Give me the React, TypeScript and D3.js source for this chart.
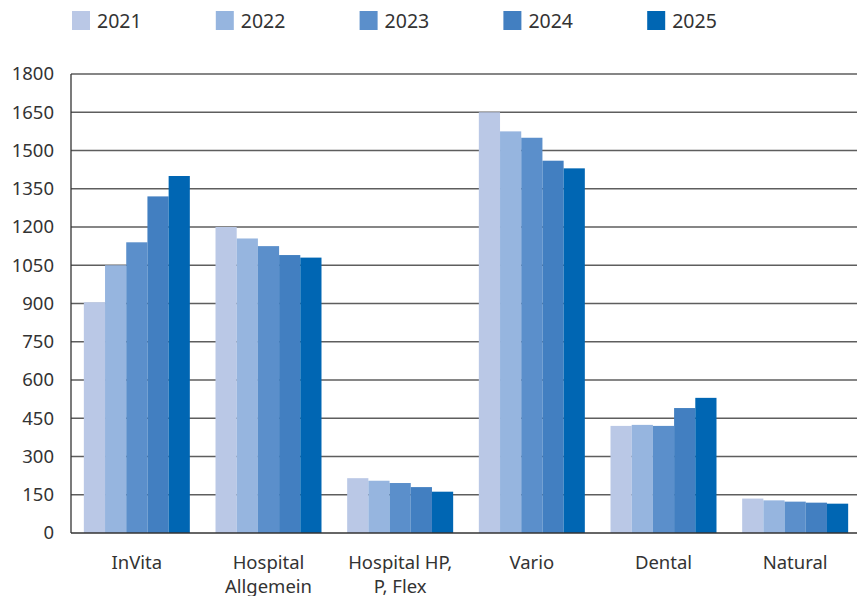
import * as d3 from "d3";
import { useEffect, useRef } from "react";

const categories = ["InVita", "Hospital\nAllgemein", "Hospital HP,\nP, Flex", "Vario", "Dental", "Natural"];
const years = ["2021", "2022", "2023", "2024", "2025"];
const values2021 = [905, 1200, 215, 1650, 420, 135];
const values2022 = [1050, 1155, 205, 1575, 424, 128];
const values2023 = [1140, 1125, 196, 1550, 420, 123];
const values2024 = [1320, 1090, 180, 1460, 490, 119];
const values2025 = [1400, 1080, 162, 1430, 530, 115];
const yTicks = [0, 150, 300, 450, 600, 750, 900, 1050, 1200, 1350, 1500, 1650, 1800];
const colors = ["#bac8e6", "#96b5df", "#5b8fcb", "#427fc1", "#0066b3"];

const series = [values2021, values2022, values2023, values2024, values2025];

const App = () => {
  const svgRef = useRef<SVGSVGElement>(null);

  useEffect(() => {
    const svg = d3.select(svgRef.current);
    svg.selectAll("*").remove();
    const width = 857;
    const height = 596;
    const margin = { top: 74, right: -4, bottom: 63, left: 71 };
    const font = "'Noto Sans', 'Open Sans', sans-serif";

    const x0 = d3.scaleBand()
      .domain(categories)
      .range([margin.left, width - margin.right])
      .paddingInner(0.195)
      .paddingOuter(0.0975);

    const x1 = d3.scaleBand()
      .domain(years)
      .range([0, x0.bandwidth()]);

    const y = d3.scaleLinear()
      .domain([0, 1800])
      .range([height - margin.bottom, margin.top]);

    // gridlines
    svg.append("g")
      .selectAll("line")
      .data(yTicks.filter((t) => t > 0))
      .join("line")
      .attr("x1", margin.left)
      .attr("x2", width)
      .attr("y1", (d) => y(d))
      .attr("y2", (d) => y(d))
      .attr("stroke", "#5e5e5e")
      .attr("stroke-width", 1.3);

    // bars
    const groups = svg.append("g")
      .selectAll("g")
      .data(categories)
      .join("g")
      .attr("transform", (d) => `translate(${x0(d)},0)`);

    groups.selectAll("rect")
      .data((_, i) => years.map((yr, j) => ({ yr, v: series[j][i], j })))
      .join("rect")
      .attr("x", (d) => x1(d.yr)!)
      .attr("width", x1.bandwidth())
      .attr("y", (d) => y(d.v))
      .attr("height", (d) => y(0) - y(d.v))
      .attr("fill", (d) => colors[d.j]);

    // axes lines
    svg.append("line")
      .attr("x1", margin.left)
      .attr("x2", width)
      .attr("y1", y(0))
      .attr("y2", y(0))
      .attr("stroke", "#333")
      .attr("stroke-width", 1.5);
    svg.append("line")
      .attr("x1", margin.left)
      .attr("x2", margin.left)
      .attr("y1", y(1800))
      .attr("y2", y(0))
      .attr("stroke", "#333")
      .attr("stroke-width", 1.3);

    // y tick labels
    svg.append("g")
      .selectAll("text")
      .data(yTicks)
      .join("text")
      .attr("x", 54)
      .attr("y", (d) => y(d))
      .attr("dy", "0.35em")
      .attr("text-anchor", "end")
      .attr("font-family", font)
      .attr("font-size", 18.5)
      .attr("fill", "#333")
      .text((d) => d);

    // category labels
    const labels = svg.append("g")
      .selectAll("text")
      .data(categories)
      .join("text")
      .attr("x", (d) => x0(d)! + x0.bandwidth() / 2)
      .attr("y", 569)
      .attr("text-anchor", "middle")
      .attr("font-family", font)
      .attr("font-size", 18.5)
      .attr("fill", "#333");
    labels.selectAll("tspan")
      .data((d) => d.split("\n"))
      .join("tspan")
      .attr("x", function () {
        return (this.parentNode as SVGTextElement).getAttribute("x");
      })
      .attr("dy", (_, i) => (i === 0 ? 0 : 24))
      .text((d) => d);

    // legend
    const legend = svg.append("g")
      .selectAll("g")
      .data(years)
      .join("g")
      .attr("transform", (_, i) => `translate(${72 + i * 143.8},11)`);
    legend.append("rect")
      .attr("width", 18)
      .attr("height", 19)
      .attr("fill", (_, i) => colors[i]);
    legend.append("text")
      .attr("x", 25)
      .attr("y", 10)
      .attr("dy", "0.35em")
      .attr("font-family", font)
      .attr("font-size", 19.5)
      .attr("fill", "#333")
      .text((d) => d);
  }, []);

  return (
    <div style={{ position: "absolute", left: 0, top: 0 }}>
      <svg ref={svgRef} width={857} height={596} style={{ display: "block", background: "#fff" }} />
    </div>
  );
};

export default App;
